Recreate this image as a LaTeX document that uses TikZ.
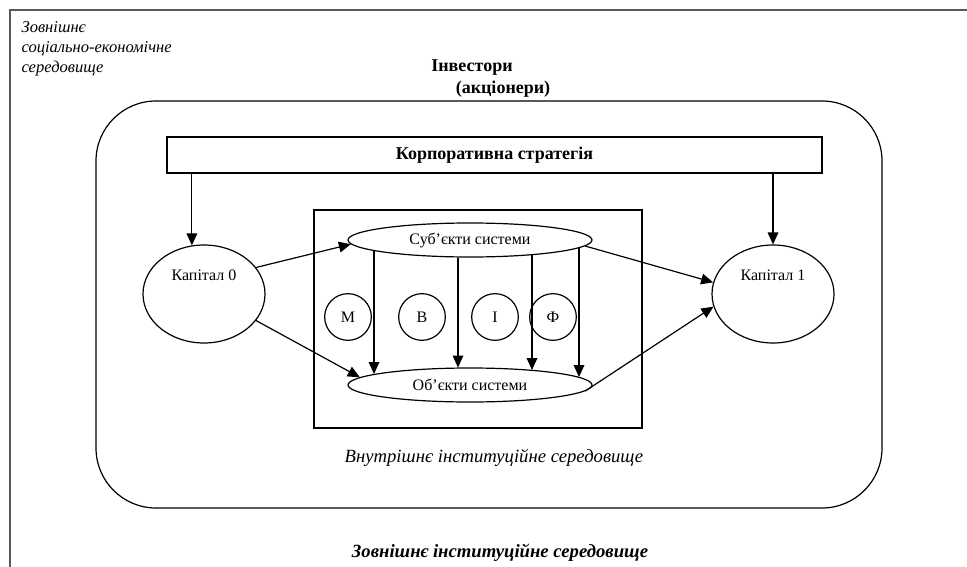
\documentclass[tikz,border=0pt]{standalone}
\usepackage{fontspec}
\setmainfont{Liberation Serif}
\usetikzlibrary{shapes.geometric,arrows.meta}

\begin{document}
\begin{tikzpicture}[>={Triangle[length=9pt,width=8pt]}, x=0.75pt, y=-0.75pt, line width=0.9pt,
  oval/.style={draw, ellipse, inner sep=0pt},
  txt/.style={font=\fontsize{12}{14}\selectfont, inner sep=0pt},
  btxt/.style={font=\fontsize{13.5}{15}\selectfont\bfseries, inner sep=0pt},
  itxt/.style={font=\fontsize{14}{16}\selectfont\itshape, inner sep=0pt}]

\useasboundingbox (0,0) rectangle (967,567);

\draw [line width=1.6pt, black!65](10,567)--(10,10)--(967,10);
\draw [rounded corners=45pt](96,101) rectangle (882,508);
\draw (314,210) rectangle (642,428);

\node [font=\fontsize{12.4}{15}\selectfont\itshape, inner sep=0pt, anchor=north west, align=left] (zovn) at (21,21) {Зовнішнє\\соціально-економічне\\середовище};
\node [btxt] (inv) at (472,68) {Інвестори};
\node [btxt] (akc) at (503,89) {(акціонери)};

\node [draw, btxt, minimum width=491.25pt, minimum height=27pt] (strat) at (494.5,155) {Корпоративна стратегія};

\node [oval, minimum width=91.5pt, minimum height=73.5pt] (k0) at (204,294) {};
\node [txt] (k0t) at (204,275) {Капітал 0};
\node [oval, minimum width=91.5pt, minimum height=73.5pt] (k1) at (773,294) {};
\node [txt] (k1t) at (773,275) {Капітал 1};

\node [oval, txt, minimum width=183pt, minimum height=25.5pt] (subj) at (470,240) {Суб’єкти системи};
\node [oval, txt, minimum width=183pt, minimum height=25.5pt] (obj) at (470,385) {Об’єкти системи};

\foreach \n/\l/\x in {m/М/348, b/В/422, i/І/495, f/Ф/553}
{
\node [draw, circle, txt, minimum size=35pt] (\n) at (\x,317) {\l};
}

\foreach \dx/\dy in {-96/11, -12/17.5, 62/15, 109/8}
{
\draw [->]([shift={(\dx,\dy)}]subj.center)--([shift={(\dx,-\dy)}]obj.center);
}

\draw [->](strat.south -| k0.104)--(k0.104);
\draw [->](strat.south -| k1.north)--(k1.north);
\draw [->](k0.27)--(subj.182.8);
\draw [->](k0.333)--(obj.176);
\draw [->](subj.357)--(k1.169.8);
\draw [->](obj.357.2)--(k1.192);

\node [itxt] (vnutr) at (494,458) {Внутрішнє інституційне середовище};
\node [itxt] (zinst) at (500,553) {\textbf{Зовнішнє інституційне середовище}};

\end{tikzpicture}
\end{document}
